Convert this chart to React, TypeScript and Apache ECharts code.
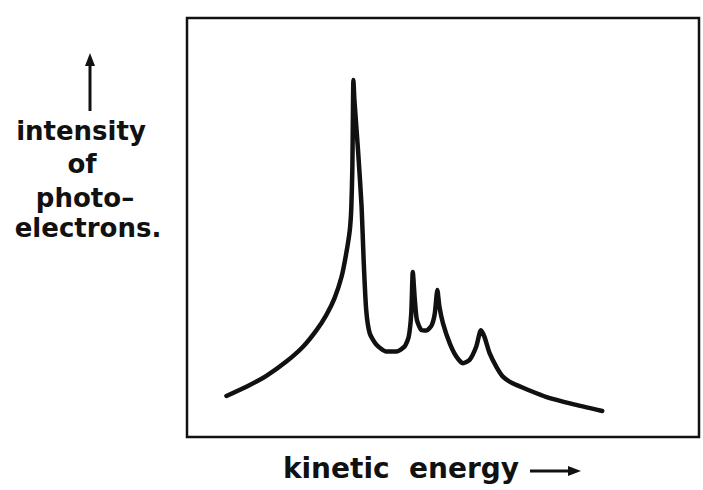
import React, { useEffect, useRef } from "react";
import * as echarts from "echarts";

// kinetic energy (arbitrary units, 0..100 across the frame)
const energy = [
  7.7, 11.6, 15.5, 19.4, 22.7, 25.3, 27.2, 28.8, 30.2, 31.1, 31.8, 32.1, 32.3, 32.4, 32.5,
  32.7, 33.4, 34.1, 34.5, 35.0, 35.7, 37.0, 38.9, 40.9, 42.5, 43.3, 43.8, 44.1,
  44.5, 44.9, 45.8, 46.8, 47.8, 48.4, 48.9, 49.3, 50.0, 51.3, 52.6, 53.9, 55.2, 56.5, 57.4,
  58.1, 59.1, 60.4, 61.7, 63.6, 66.9, 70.1, 75.2, 81.1,
];
// intensity of photoelectrons (arbitrary units, 0..100 up the frame)
const intensity = [
  9.8, 12.0, 14.6, 18.0, 21.6, 25.5, 29.1, 33.1, 38.3, 43.8, 49.4, 55.0, 64.5, 76.4, 85.2,
  80.4, 68.5, 55.0, 42.2, 30.3, 24.7, 22.0, 20.4, 20.4, 21.6, 23.9, 29.5, 39.4,
  32.7, 27.9, 25.5, 25.4, 26.7, 29.5, 35.1, 31.1, 27.1, 22.4, 19.2, 17.6, 18.4, 21.6, 25.5,
  23.9, 20.0, 16.8, 14.4, 12.8, 11.1, 9.6, 7.9, 6.2,
];
const yLabelLines = ["intensity", "of", "photo–", "electrons."];
const yLabelRows = [131, 164, 198, 228];
const yLabelCols = [81, 82, 85, 88];
const xLabel = "kinetic  energy";

export default function App() {
  const ref = useRef<HTMLDivElement>(null);
  useEffect(() => {
    if (!ref.current) return;
    const chart = echarts.init(ref.current, undefined, { renderer: "svg" });
    const font = "'DejaVu Sans', sans-serif";
    const data = energy.map((e, i) => [e, intensity[i]]);
    chart.setOption({
      animation: false,
      backgroundColor: "#ffffff",
      grid: {
        left: 187,
        right: 4,
        top: 18,
        bottom: 53,
        show: true,
        borderColor: "#111",
        borderWidth: 2.5,
        backgroundColor: "transparent",
      },
      xAxis: { type: "value", min: 0, max: 100, show: false },
      yAxis: { type: "value", min: 0, max: 100, show: false },
      series: [
        {
          type: "line",
          data,
          smooth: 0.2,
          symbol: "none",
          lineStyle: { color: "#111", width: 4.5, cap: "round", join: "round" },
        },
      ],
      graphic: [
        ...yLabelLines.map((t, i) => ({
          type: "text",
          x: yLabelCols[i],
          y: yLabelRows[i],
          style: {
            text: t,
            font: `bold 26px ${font}`,
            fill: "#111",
            align: "center",
            verticalAlign: "middle",
          },
        })),
        {
          type: "line",
          shape: { x1: 90, y1: 111, x2: 90, y2: 62 },
          style: { stroke: "#111", lineWidth: 3 },
        },
        {
          type: "polygon",
          shape: { points: [[85, 66], [95, 66], [90, 53]] },
          style: { fill: "#111" },
        },
        {
          type: "text",
          x: 401,
          y: 468,
          style: {
            text: xLabel,
            font: `bold 28px ${font}`,
            fill: "#111",
            align: "center",
            verticalAlign: "middle",
          },
        },
        {
          type: "line",
          shape: { x1: 530, y1: 471, x2: 572, y2: 471 },
          style: { stroke: "#111", lineWidth: 3 },
        },
        {
          type: "polygon",
          shape: { points: [[568, 466], [568, 476], [581, 471]] },
          style: { fill: "#111" },
        },
      ],
    });
    return () => chart.dispose();
  }, []);
  return (
    <div
      ref={ref}
      style={{ position: "fixed", left: 0, top: 0, width: 703, height: 490 }}
    />
  );
}
